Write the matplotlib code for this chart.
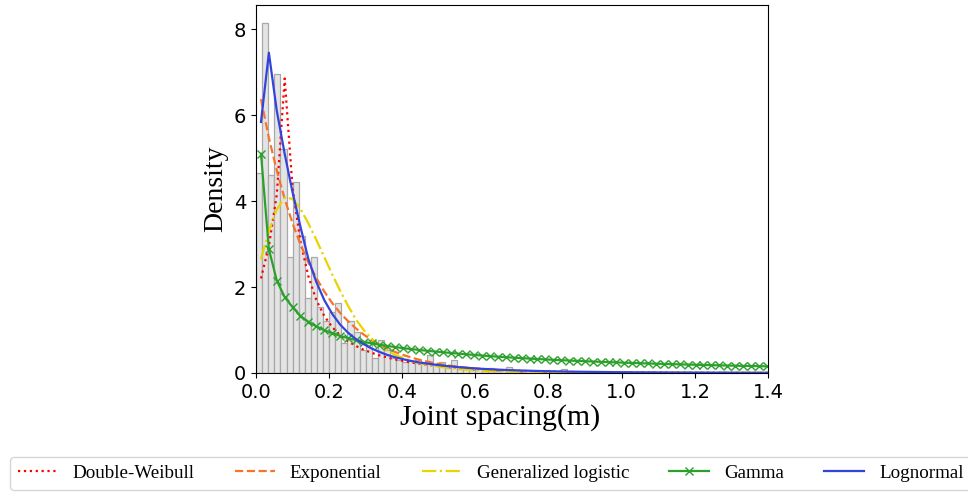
import matplotlib
matplotlib.use("Agg")
import matplotlib.pyplot as plt

### Data ----------------------------------------------------------------------------------------------

# histogram of joint spacing (density), bins of width 1/60 m starting at 0
bin_width = 1.0 / 60.0
hist_density = [4.65, 8.15, 4.6, 6.95, 5.2, 2.7, 4.45, 3.19, 1.74, 2.69,
                1.53, 1.2, 1.42, 1.63, 0.69, 1.2, 0.96, 0.53, 0.72, 0.35,
                0.77, 0.53, 0.35, 0.3, 0.25, 0.27, 0.3, 0.25, 0.42, 0.2,
                0.25, 0.12, 0.3, 0.1, 0.15, 0.08, 0.1, 0.05, 0.12, 0.05,
                0.08, 0.14, 0.05, 0.03, 0.06, 0.03, 0.04, 0.0, 0.03, 0.02,
                0.1, 0.0, 0.02, 0.0, 0.03]

# points where the fitted pdfs were evaluated
x_fit = [0.0135, 0.0351, 0.0567, 0.0783, 0.0999, 0.1215, 0.1431, 0.1647, 0.1863, 0.2079,
         0.2295, 0.2511, 0.2727, 0.2943, 0.3159, 0.3375, 0.3591, 0.3807, 0.4023, 0.4239,
         0.4455, 0.4671, 0.4887, 0.5103, 0.5319, 0.5535, 0.5751, 0.5967, 0.6183, 0.6399,
         0.6615, 0.6831, 0.7047, 0.7263, 0.7479, 0.7695, 0.7911, 0.8127, 0.8343, 0.8559,
         0.8775, 0.8991, 0.9207, 0.9423, 0.9639, 0.9855, 1.0071, 1.0287, 1.0503, 1.0719,
         1.0935, 1.1151, 1.1367, 1.1583, 1.1799, 1.2015, 1.2231, 1.2447, 1.2663, 1.2879,
         1.3095, 1.3311, 1.3527, 1.3743, 1.3959, 1.4175]

double_weibull = [2.2, 2.95, 4.15, 6.85, 4.3, 3.05, 2.25, 1.7, 1.33, 1.07,
                  0.88, 0.74, 0.63, 0.54, 0.47, 0.41, 0.36, 0.315, 0.28, 0.245,
                  0.215, 0.19, 0.17, 0.15, 0.133, 0.118, 0.105, 0.094, 0.084, 0.075,
                  0.067, 0.06, 0.054, 0.048, 0.043, 0.039, 0.035, 0.031, 0.028, 0.025,
                  0.023, 0.02, 0.018, 0.016, 0.015, 0.013, 0.012, 0.011, 0.01, 0.009,
                  0.008, 0.007, 0.0065, 0.006, 0.0053, 0.0048, 0.0043, 0.0039, 0.0035, 0.0031,
                  0.0028, 0.0025, 0.0023, 0.002, 0.0018, 0.0016]

exponential = [6.37, 5.47, 4.71, 4.05, 3.48, 2.99, 2.57, 2.21, 1.9, 1.63,
               1.4, 1.21, 1.04, 0.893, 0.768, 0.66, 0.567, 0.488, 0.419, 0.361,
               0.31, 0.267, 0.229, 0.197, 0.169, 0.146, 0.125, 0.108, 0.0927, 0.0797,
               0.0685, 0.0589, 0.0506, 0.0435, 0.0374, 0.0322, 0.0277, 0.0238, 0.0204, 0.0176,
               0.0151, 0.013, 0.0112, 0.0096, 0.0083, 0.0071, 0.0061, 0.0052, 0.0045, 0.0039,
               0.0033, 0.0029, 0.0025, 0.0021, 0.0018, 0.0016, 0.0013, 0.0012, 0.001, 0.0009,
               0.0007, 0.0006, 0.0005, 0.0005, 0.0004, 0.0003]

gen_logistic = [2.65, 3.3, 3.8, 4.08, 4.05, 3.82, 3.48, 3.1, 2.7, 2.3,
                1.92, 1.57, 1.25, 1.0, 0.8, 0.64, 0.52, 0.42, 0.35, 0.28,
                0.23, 0.19, 0.16, 0.135, 0.11, 0.09, 0.075, 0.062, 0.051, 0.042,
                0.035, 0.029, 0.024, 0.02, 0.016, 0.013, 0.011, 0.009, 0.0075, 0.006,
                0.005, 0.004, 0.0034, 0.0028, 0.0023, 0.0019, 0.0015, 0.0013, 0.001, 0.0009,
                0.0007, 0.0006, 0.0005, 0.0004, 0.0003, 0.0003, 0.0002, 0.0002, 0.0002, 0.0001,
                0.0001, 0.0001, 0.0001, 0.0001, 0.0001, 0.0001]

gamma = [5.1, 2.88, 2.15, 1.767, 1.53, 1.327, 1.19, 1.084, 0.997, 0.925,
         0.864, 0.812, 0.766, 0.726, 0.69, 0.658, 0.629, 0.603, 0.578, 0.556,
         0.536, 0.517, 0.499, 0.483, 0.467, 0.45, 0.4347, 0.4197, 0.4056, 0.3922,
         0.3795, 0.3676, 0.3561, 0.3453, 0.3349, 0.3249, 0.3155, 0.3064, 0.2978, 0.2894,
         0.2814, 0.2738, 0.2664, 0.2593, 0.2525, 0.2459, 0.2395, 0.2334, 0.2275, 0.2218,
         0.2162, 0.2109, 0.2057, 0.2007, 0.1958, 0.1911, 0.1866, 0.1821, 0.1778, 0.1736,
         0.1696, 0.1657, 0.1618, 0.1581, 0.1545, 0.151]

lognormal = [5.84, 7.45, 6.1, 5.1, 4.2, 3.4, 2.65, 2.12, 1.7, 1.38,
             1.13, 0.94, 0.79, 0.67, 0.57, 0.49, 0.42, 0.365, 0.32, 0.28,
             0.245, 0.22, 0.195, 0.172, 0.153, 0.136, 0.121, 0.108, 0.097, 0.087,
             0.078, 0.07, 0.063, 0.057, 0.052, 0.047, 0.043, 0.039, 0.035, 0.032,
             0.029, 0.027, 0.025, 0.023, 0.021, 0.019, 0.018, 0.016, 0.015, 0.014,
             0.013, 0.012, 0.011, 0.0105, 0.0098, 0.0092, 0.0086, 0.008, 0.0075, 0.007,
             0.0066, 0.0062, 0.0058, 0.0055, 0.0052, 0.0049]

x_ticks = [0.0, 0.2, 0.4, 0.6, 0.8, 1.0, 1.2, 1.4]
y_ticks = [0, 2, 4, 6, 8]

### Plot ----------------------------------------------------------------------------------------------

serif = ['Liberation Serif', 'DejaVu Serif']

fig = plt.figure(figsize=(9.68, 4.92), dpi=100)
ax = fig.add_axes([0.2645, 0.2419, 0.529, 0.748])

bin_left = [i * bin_width for i in range(len(hist_density))]
ax.bar(bin_left, hist_density, width=bin_width, align='edge',
       color='#e4e4e4', edgecolor='#a8a8a8', linewidth=0.9)

ax.plot(x_fit, double_weibull, color='red', linestyle=':', linewidth=1.6, label='Double-Weibull')
ax.plot(x_fit, exponential, color='#f7732a', linestyle='--', linewidth=1.6, label='Exponential')
ax.plot(x_fit, gen_logistic, color='#e8d400', linestyle='-.', linewidth=1.6, label='Generalized logistic')
ax.plot(x_fit, gamma, color='#2ca02c', linestyle='-', linewidth=1.6, marker='x', markersize=6,
        label='Gamma')
ax.plot(x_fit, lognormal, color='#3344dd', linestyle='-', linewidth=1.6, label='Lognormal')

ax.set_xlim(0, 1.4)
ax.set_ylim(0, 8.56)
ax.set_xticks(x_ticks)
ax.set_yticks(y_ticks)
ax.tick_params(labelsize=14)
ax.set_xlabel('Joint spacing(m)', fontsize=21.5, family=serif)
ax.xaxis.set_label_coords(0.477, -0.085)
ax.set_ylabel('Density', fontsize=20, family=serif)

fig.legend(loc='upper left', bbox_to_anchor=(10 / 968, 1 - 457 / 492), ncol=5,
           prop={'family': serif, 'size': 13.7}, handlelength=2.1, handletextpad=0.8,
           columnspacing=2.1, borderaxespad=0.0)

fig.savefig('out.png', dpi=100)
